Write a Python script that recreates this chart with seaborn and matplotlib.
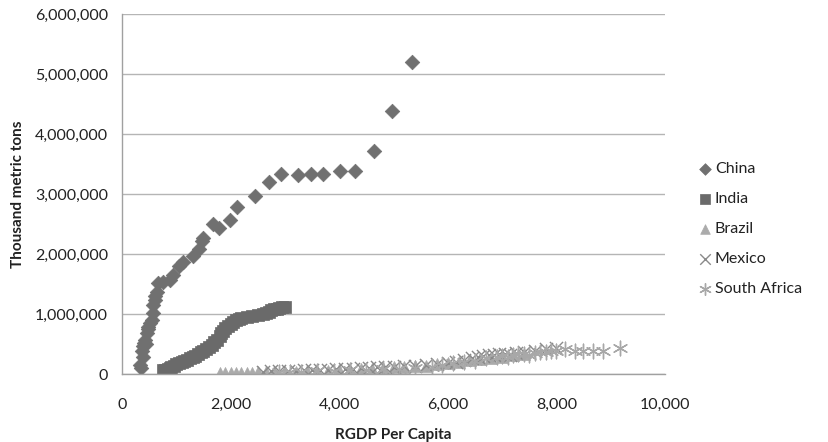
import matplotlib
matplotlib.use("Agg")
import matplotlib.pyplot as plt
import seaborn as sns
import pandas as pd
from matplotlib.ticker import FuncFormatter

# ---- data (x: RGDP per capita, y: thousand metric tons) ----
china_x = [331, 350, 360, 381, 392, 400, 424, 440, 455, 470, 485, 520, 547, 565, 577, 600, 608, 639,
           669, 761, 884, 932, 1055, 1130, 1300, 1418, 1467, 1497, 1680, 1780, 1989, 2124, 2449,
           2707, 2928, 3241, 3481, 3695, 4009, 4297, 4641, 4977, 5340]
china_y = [150, 100, 380, 290, 460, 520, 570, 500, 680, 750, 790, 850, 900, 1010, 1150, 1300, 1230, 1370,
           1510, 1540, 1570, 1650, 1800, 1870, 1960, 2090, 2210, 2260, 2500, 2440, 2570, 2780, 2960,
           3200, 3340, 3320, 3330, 3340, 3390, 3380, 3720, 4380, 5200]

india_x = [750, 800, 850, 880, 900, 950, 1000, 1050, 1100, 1150, 1200, 1250, 1300, 1350, 1400, 1450,
           1500, 1550, 1600, 1650, 1700, 1750, 1800, 1830, 1860, 1900, 1950, 2000, 2050, 2100, 2150,
           2200, 2300, 2400, 2500, 2600, 2650, 2700, 2750, 2800, 2850, 2900, 2950, 3000]
india_y = [60, 70, 80, 100, 120, 140, 160, 180, 200, 220, 240, 260, 280, 300, 330, 360,
           390, 420, 450, 490, 530, 570, 630, 680, 720, 760, 800, 830, 870, 900, 920,
           940, 950, 960, 980, 1000, 1020, 1040, 1060, 1080, 1090, 1100, 1110, 1120]

brazil_x = [1800, 1900, 2000, 2100, 2200, 2300, 2400, 2500, 2650, 2800, 3000, 3200, 3400, 3600, 3800,
            4000, 4200, 4400, 4600, 4800, 5000, 5200, 5400, 5600, 5800, 6000, 6200, 6400, 6600,
            6800, 7000, 7200, 7400]
brazil_y = [10, 12, 15, 18, 20, 22, 25, 28, 30, 33, 36, 40, 45, 50, 55,
            60, 70, 80, 90, 100, 110, 120, 130, 140, 160, 180, 200, 230, 250,
            270, 290, 310, 340]

mexico_x = [2600, 2750, 2900, 3050, 3200, 3350, 3500, 3650, 3800, 3950, 4100, 4250, 4400, 4550, 4700,
            4850, 5000, 5200, 5400, 5600, 5800, 6000, 6150, 6300, 6450, 6550, 6650, 6750, 6850, 6950,
            7050, 7150, 7250, 7400, 7600, 7800, 8000]
mexico_y = [40, 45, 50, 55, 50, 60, 65, 70, 75, 80, 85, 90, 95, 100, 110,
            115, 120, 130, 140, 150, 160, 180, 200, 230, 260, 280, 300, 320, 310, 330,
            340, 320, 350, 370, 390, 410, 430]

safrica_x = [2900, 3100, 3300, 3600, 3900, 4200, 4500, 4800, 5100, 5400, 5700, 5900, 6100, 6300, 6500,
             6700, 6900, 7000, 7100, 7200, 7300, 7400, 7500, 7600, 7700, 7800, 7900, 8000, 8160,
             8343, 8496, 8680, 8865, 9170]
safrica_y = [30, 35, 40, 45, 50, 60, 70, 80, 90, 100, 120, 150, 180, 200, 220,
             260, 280, 300, 290, 310, 330, 340, 320, 350, 360, 370, 380, 390, 411,
             385, 383, 383, 388, 428]

series = [
    ("China", china_x, china_y, "D", "#707070", 55, True),
    ("India", india_x, india_y, "s", "#6a6a6a", 80, True),
    ("Brazil", brazil_x, brazil_y, "^", "#ababab", 75, True),
    ("Mexico", mexico_x, mexico_y, "x", "#8a8a8a", 90, False),
    ("South Africa", safrica_x, safrica_y, (6, 2, 0), "#a8a8a8", 110, False),
]

sns.set_theme(style="white")
plt.rcParams['font.family'] = ['Lato', 'DejaVu Sans']

fig = plt.figure(figsize=(8.29, 4.42), dpi=100)
ax = fig.add_axes([122 / 829, 1 - 374 / 442, (665 - 122) / 829, (374 - 14) / 442])

for name, xs, ys, mk, col, size, filled in series:
    df = pd.DataFrame({"x": xs, "y": [v * 1000 for v in ys]})
    if filled:
        sns.scatterplot(data=df, x="x", y="y", marker=mk, color=col, s=size,
                        edgecolor=col, linewidth=0.5, ax=ax, label=name)
    else:
        sns.scatterplot(data=df, x="x", y="y", marker=mk, color=col, s=size,
                        linewidth=1.0, ax=ax, label=name)

ax.set_xlim(0, 10000)
ax.set_ylim(0, 6000000)
ax.set_xticks(range(0, 10001, 2000))
ax.set_yticks(range(0, 6000001, 1000000))
fmt = FuncFormatter(lambda v, p: f"{int(v):,}")
ax.xaxis.set_major_formatter(fmt)
ax.yaxis.set_major_formatter(fmt)

ax.grid(axis="y", color="#b5b5b5", linewidth=1.0)
ax.set_axisbelow(True)
for side in ["top", "right"]:
    ax.spines[side].set_visible(False)
for side in ["left", "bottom"]:
    ax.spines[side].set_color("#a0a0a0")
    ax.spines[side].set_linewidth(1.0)
ax.tick_params(axis="both", which="major", direction="out", length=5, width=1,
               color="#a0a0a0", labelsize=11.5, labelcolor="#222222")
ax.tick_params(axis="x", pad=12)
ax.tick_params(axis="y", pad=5)

ax.set_xlabel("RGDP Per Capita", fontsize=11, fontweight="bold", color="#222222", labelpad=12)
ax.set_ylabel("Thousand metric tons", fontsize=11, fontweight="bold", color="#222222", labelpad=7)

handles, labels = ax.get_legend_handles_labels()
ax.get_legend().remove()
fig.legend(handles, labels, loc="center left", bbox_to_anchor=(683 / 829, 1 - 229 / 442),
           frameon=False, fontsize=11.5, labelspacing=1.0, handletextpad=0.1,
           handlelength=1.0, markerscale=0.8, labelcolor="#222222")

fig.savefig("out.png", dpi=100, facecolor="white")
